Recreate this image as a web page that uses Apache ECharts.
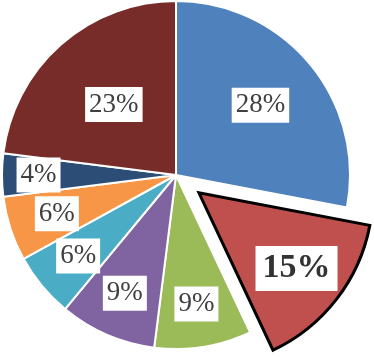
<!DOCTYPE html>
<html>
<head>
<meta charset="utf-8">
<script src="https://cdn.jsdelivr.net/npm/echarts@6/dist/echarts.min.js"></script>
<style>html,body{margin:0;padding:0;background:#fff}#c{width:374px;height:357px}</style>
</head>
<body>
<div id="c"></div>
<script>
const categories = ['Part A', 'Part B', 'Part C', 'Part D', 'Part E', 'Part F', 'Part G', 'Part H'];
const values = [28, 15, 9, 9, 6, 6, 4, 23];
const explodedIndex = 1;

const colors = ['#4F81BD', '#C0504D', '#9BBB59', '#8064A2', '#4BACC6', '#F79646', '#2C4D75', '#772C2A'];
// label distance from the slice apex, as a fraction of the radius (Excel best-fit placement)
const labelFrac = [0.63, 0.71, 0.75, 0.74, 0.73, 0.72, 0.79, 0.54];

const CX = 176, CY = 175, R = 174, OFFSET = 29;
const total = values.reduce((a, b) => a + b, 0);

function midAngle(i) {
  let cum = 0;
  for (let k = 0; k < i; k++) cum += values[k];
  return (cum + values[i] / 2) / total * Math.PI * 2;
}
const exMid = midAngle(explodedIndex);
const EX = CX + Math.sin(exMid) * OFFSET, EY = CY - Math.cos(exMid) * OFFSET;

const baseLabel = {
  show: true,
  position: 'inside',
  formatter: p => p.value + '%',
  fontFamily: '"Liberation Serif", "Times New Roman", serif',
  fontSize: 27,
  lineHeight: 28,
  color: '#404040',
  backgroundColor: '#fff',
  padding: [4, 4, 3, 4]
};

function layoutFor(cx, cy) {
  return function (p) {
    const i = p.dataIndex;
    const m = midAngle(i);
    const d = labelFrac[i] * R;
    return {x: cx + Math.sin(m) * d, y: cy - Math.cos(m) * d, align: 'center', verticalAlign: 'middle'};
  };
}

const hidden = {color: 'transparent', borderWidth: 0};

const chart = echarts.init(document.getElementById('c'), null, {renderer: 'canvas'});
chart.setOption({
  animation: false,
  series: [{
    type: 'pie',
    center: [CX, CY],
    radius: [0, R],
    startAngle: 90,
    clockwise: true,
    avoidLabelOverlap: false,
    emphasis: {disabled: true},
    label: baseLabel,
    labelLine: {show: false},
    labelLayout: layoutFor(CX, CY),
    data: values.map((v, i) => {
      const item = {name: categories[i], value: v,
        itemStyle: {color: colors[i], borderColor: '#fff', borderWidth: 2}};
      if (i === explodedIndex) {
        item.itemStyle = hidden;
        item.label = {show: false};
      }
      return item;
    })
  }, {
    type: 'pie',
    center: [EX, EY],
    radius: [0, R],
    startAngle: 90,
    clockwise: true,
    avoidLabelOverlap: false,
    emphasis: {disabled: true},
    label: baseLabel,
    labelLine: {show: false},
    labelLayout: layoutFor(EX, EY),
    data: values.map((v, i) => {
      const item = {name: categories[i], value: v};
      if (i === explodedIndex) {
        item.itemStyle = {color: colors[i], borderColor: '#000', borderWidth: 3, borderJoin: 'miter'};
        item.label = {fontSize: 34, lineHeight: 34, fontWeight: 'bold', color: '#333', padding: [6, 7, 5, 7]};
      } else {
        item.itemStyle = hidden;
        item.label = {show: false};
      }
      return item;
    })
  }]
});
</script>
</body>
</html>
